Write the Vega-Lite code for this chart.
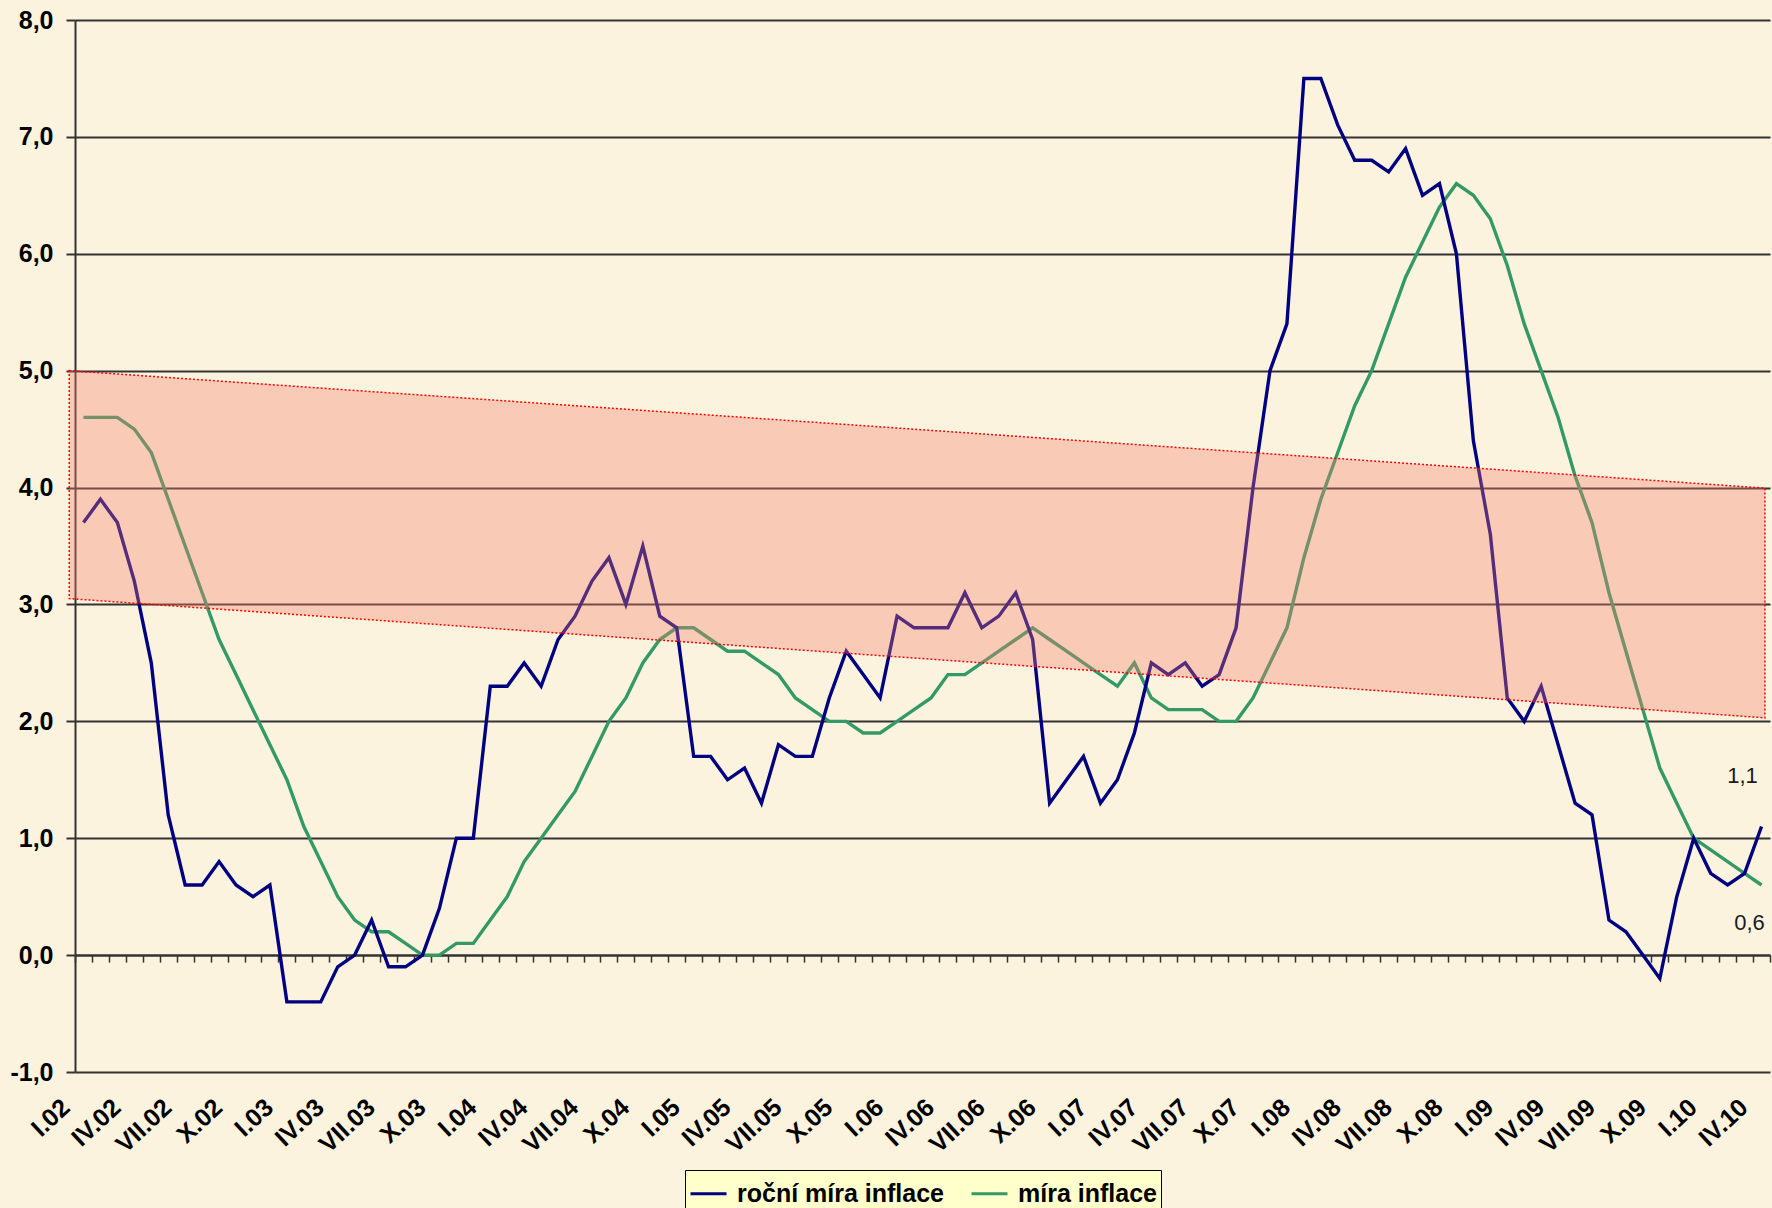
{
  "$schema": "https://vega.github.io/schema/vega-lite/v6.json",
  "width": 1695,
  "height": 1052,
  "autosize": {"type": "none"},
  "padding": {"left": 75, "top": 20, "right": 2, "bottom": 136},
  "background": "#FCF3DE",
  "config": {
    "view": {"stroke": null},
    "font": "Liberation Sans",
    "locale": {"number": {"decimal": ",", "thousands": " ", "grouping": [3], "currency": ["", " Kč"], "minus": "-"}}
  },
  "datasets": {
    "main": [
      {"t":0,"r":3.7,"p":4.6},{"t":1,"r":3.9,"p":4.6},{"t":2,"r":3.7,"p":4.6},{"t":3,"r":3.2,"p":4.5},{"t":4,"r":2.5,"p":4.3},{"t":5,"r":1.2,"p":3.9},
      {"t":6,"r":0.6,"p":3.5},{"t":7,"r":0.6,"p":3.1},{"t":8,"r":0.8,"p":2.7},{"t":9,"r":0.6,"p":2.4},{"t":10,"r":0.5,"p":2.1},{"t":11,"r":0.6,"p":1.8},
      {"t":12,"r":-0.4,"p":1.5},{"t":13,"r":-0.4,"p":1.1},{"t":14,"r":-0.4,"p":0.8},{"t":15,"r":-0.1,"p":0.5},{"t":16,"r":0.0,"p":0.3},{"t":17,"r":0.3,"p":0.2},
      {"t":18,"r":-0.1,"p":0.2},{"t":19,"r":-0.1,"p":0.1},{"t":20,"r":0.0,"p":0.0},{"t":21,"r":0.4,"p":0.0},{"t":22,"r":1.0,"p":0.1},{"t":23,"r":1.0,"p":0.1},
      {"t":24,"r":2.3,"p":0.3},{"t":25,"r":2.3,"p":0.5},{"t":26,"r":2.5,"p":0.8},{"t":27,"r":2.3,"p":1.0},{"t":28,"r":2.7,"p":1.2},{"t":29,"r":2.9,"p":1.4},
      {"t":30,"r":3.2,"p":1.7},{"t":31,"r":3.4,"p":2.0},{"t":32,"r":3.0,"p":2.2},{"t":33,"r":3.5,"p":2.5},{"t":34,"r":2.9,"p":2.7},{"t":35,"r":2.8,"p":2.8},
      {"t":36,"r":1.7,"p":2.8},{"t":37,"r":1.7,"p":2.7},{"t":38,"r":1.5,"p":2.6},{"t":39,"r":1.6,"p":2.6},{"t":40,"r":1.3,"p":2.5},{"t":41,"r":1.8,"p":2.4},
      {"t":42,"r":1.7,"p":2.2},{"t":43,"r":1.7,"p":2.1},{"t":44,"r":2.2,"p":2.0},{"t":45,"r":2.6,"p":2.0},{"t":46,"r":2.4,"p":1.9},{"t":47,"r":2.2,"p":1.9},
      {"t":48,"r":2.9,"p":2.0},{"t":49,"r":2.8,"p":2.1},{"t":50,"r":2.8,"p":2.2},{"t":51,"r":2.8,"p":2.4},{"t":52,"r":3.1,"p":2.4},{"t":53,"r":2.8,"p":2.5},
      {"t":54,"r":2.9,"p":2.6},{"t":55,"r":3.1,"p":2.7},{"t":56,"r":2.7,"p":2.8},{"t":57,"r":1.3,"p":2.7},{"t":58,"r":1.5,"p":2.6},{"t":59,"r":1.7,"p":2.5},
      {"t":60,"r":1.3,"p":2.4},{"t":61,"r":1.5,"p":2.3},{"t":62,"r":1.9,"p":2.5},{"t":63,"r":2.5,"p":2.2},{"t":64,"r":2.4,"p":2.1},{"t":65,"r":2.5,"p":2.1},
      {"t":66,"r":2.3,"p":2.1},{"t":67,"r":2.4,"p":2.0},{"t":68,"r":2.8,"p":2.0},{"t":69,"r":4.0,"p":2.2},{"t":70,"r":5.0,"p":2.5},{"t":71,"r":5.4,"p":2.8},
      {"t":72,"r":7.5,"p":3.4},{"t":73,"r":7.5,"p":3.9},{"t":74,"r":7.1,"p":4.3},{"t":75,"r":6.8,"p":4.7},{"t":76,"r":6.8,"p":5.0},{"t":77,"r":6.7,"p":5.4},
      {"t":78,"r":6.9,"p":5.8},{"t":79,"r":6.5,"p":6.1},{"t":80,"r":6.6,"p":6.4},{"t":81,"r":6.0,"p":6.6},{"t":82,"r":4.4,"p":6.5},{"t":83,"r":3.6,"p":6.3},
      {"t":84,"r":2.2,"p":5.9},{"t":85,"r":2.0,"p":5.4},{"t":86,"r":2.3,"p":5.0},{"t":87,"r":1.8,"p":4.6},{"t":88,"r":1.3,"p":4.1},{"t":89,"r":1.2,"p":3.7},
      {"t":90,"r":0.3,"p":3.1},{"t":91,"r":0.2,"p":2.6},{"t":92,"r":0.0,"p":2.1},{"t":93,"r":-0.2,"p":1.6},{"t":94,"r":0.5,"p":1.3},{"t":95,"r":1.0,"p":1.0},
      {"t":96,"r":0.7,"p":0.9},{"t":97,"r":0.6,"p":0.8},{"t":98,"r":0.7,"p":0.7},{"t":99,"r":1.1,"p":0.6}
    ],
    "band": [
      {"bx": -0.84, "top": 5.0, "bot": 3.05},
      {"bx": 99.2, "top": 3.995, "bot": 2.03}
    ]
  },
  "layer": [
    {
      "data": {"name": "main"},
      "transform": [{"fold": ["p", "r"], "as": ["s", "v"]}],
      "mark": {"type": "line", "strokeWidth": 3.4},
      "encoding": {
        "x": {
          "field": "t", "type": "quantitative", "title": null,
          "scale": {"domain": [-0.5, 99.5], "nice": false, "zero": false},
          "axis": {
            "title": null, "orient": "bottom", "offset": -116.9, "tickCount": 1000,
            "values": [-0.5,0.5,1.5,2.5,3.5,4.5,5.5,6.5,7.5,8.5,9.5,10.5,11.5,12.5,13.5,14.5,15.5,16.5,17.5,18.5,19.5,20.5,21.5,22.5,23.5,24.5,25.5,26.5,27.5,28.5,29.5,30.5,31.5,32.5,33.5,34.5,35.5,36.5,37.5,38.5,39.5,40.5,41.5,42.5,43.5,44.5,45.5,46.5,47.5,48.5,49.5,50.5,51.5,52.5,53.5,54.5,55.5,56.5,57.5,58.5,59.5,60.5,61.5,62.5,63.5,64.5,65.5,66.5,67.5,68.5,69.5,70.5,71.5,72.5,73.5,74.5,75.5,76.5,77.5,78.5,79.5,80.5,81.5,82.5,83.5,84.5,85.5,86.5,87.5,88.5,89.5,90.5,91.5,92.5,93.5,94.5,95.5,96.5,97.5,98.5,99.5],
            "domain": true, "domainColor": "#333333", "domainWidth": 2,
            "ticks": true, "tickSize": 7, "tickColor": "#333333", "tickWidth": 1.5,
            "grid": false,
            "labelAngle": -43, "labelAlign": "right", "labelBaseline": "middle",
            "labelPadding": 141, "labelOffset": -9.5,
            "labelFont": "Liberation Sans", "labelFontSize": 25, "labelFontWeight": "bold", "labelColor": "#000000",
            "labelOverlap": false, "labelBound": false, "labelFlush": false,
            "labelExpr": "(datum.value + 0.5) % 3 == 0 && datum.value < 99 ? ['I','IV','VII','X'][((datum.value + 0.5) % 12) / 3] + '.' + format(2 + floor((datum.value + 0.5) / 12), '02d') : ''"
          }
        },
        "y": {
          "field": "v", "type": "quantitative", "title": null,
          "scale": {"domain": [-1, 8], "nice": false, "zero": false},
          "axis": {
            "title": null, "values": [-1,0,1,2,3,4,5,6,7,8], "format": ".1f",
            "grid": true, "gridColor": "#333333", "gridWidth": 2,
            "domain": true, "domainColor": "#333333", "domainWidth": 2,
            "ticks": true, "tickSize": 9, "tickColor": "#333333", "tickWidth": 2,
            "labelPadding": 13, "labelFont": "Liberation Sans", "labelFontSize": 25, "labelFontWeight": "bold", "labelColor": "#000000"
          }
        },
        "color": {
          "field": "s", "type": "nominal",
          "scale": {"domain": ["r", "p"], "range": ["#000080", "#339966"]},
          "legend": {
            "orient": "none", "legendX": 610, "legendY": 1150, "direction": "horizontal", "title": null,
            "fillColor": "#FFFFCC", "strokeColor": "#000000", "padding": 4,
            "symbolType": "stroke", "symbolSize": 1296, "symbolStrokeWidth": 3,
            "labelFont": "Liberation Sans", "labelFontSize": 25, "labelFontWeight": "bold", "labelColor": "#000000",
            "labelOffset": 9, "columnPadding": 20, "labelLimit": 0,
            "labelExpr": "datum.label == 'r' ? 'roční míra inflace' : 'míra inflace'"
          }
        }
      }
    },
    {
      "data": {"name": "band"},
      "mark": {"type": "area", "fill": "#F38171", "fillOpacity": 0.35, "stroke": "#FF0000", "strokeOpacity": 1, "strokeDash": [2, 2], "strokeWidth": 1.5},
      "encoding": {
        "x": {"field": "bx", "type": "quantitative", "title": null, "scale": {"domain": [-0.5, 99.5], "nice": false, "zero": false}},
        "y": {"field": "top", "type": "quantitative", "title": null, "scale": {"domain": [-1, 8], "nice": false, "zero": false}},
        "y2": {"field": "bot"}
      }
    },
    {
      "data": {"name": "main"},
      "transform": [{"filter": "datum.t == 99"}],
      "mark": {"type": "text", "dx": -19, "dy": -51, "fontSize": 22, "color": "#1a1a1a", "font": "Liberation Sans"},
      "encoding": {
        "x": {"field": "t", "type": "quantitative", "title": null},
        "y": {"field": "r", "type": "quantitative", "title": null},
        "text": {"field": "r", "type": "quantitative", "format": ".1f"}
      }
    },
    {
      "data": {"name": "main"},
      "transform": [{"filter": "datum.t == 99"}],
      "mark": {"type": "text", "dx": -12, "dy": 38, "fontSize": 22, "color": "#1a1a1a", "font": "Liberation Sans"},
      "encoding": {
        "x": {"field": "t", "type": "quantitative", "title": null},
        "y": {"field": "p", "type": "quantitative", "title": null},
        "text": {"field": "p", "type": "quantitative", "format": ".1f"}
      }
    }
  ]
}
